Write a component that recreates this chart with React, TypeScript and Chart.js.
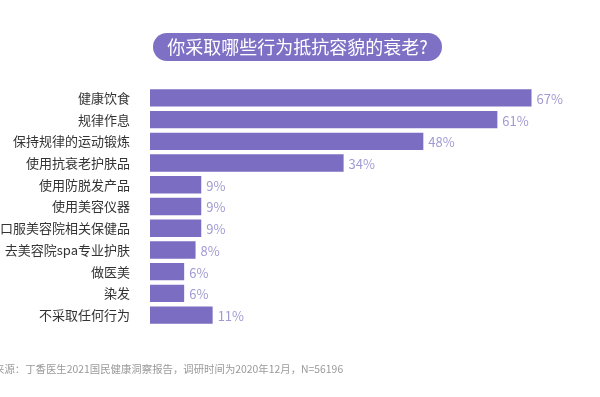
import React, { useEffect, useRef } from "react";
import { Chart, registerables } from "chart.js";

Chart.register(...registerables);

const categories = [
  "健康饮食",
  "规律作息",
  "保持规律的运动锻炼",
  "使用抗衰老护肤品",
  "使用防脱发产品",
  "使用美容仪器",
  "服用口服美容院相关保健品",
  "去美容院spa专业护肤",
  "做医美",
  "染发",
  "不采取任何行为",
];
const values = [67, 61, 48, 34, 9, 9, 9, 8, 6, 6, 11];
const titleText = "你采取哪些行为抵抗容貌的衰老?";
const sourceText = "来源：丁香医生2021国民健康洞察报告，调研时间为2020年12月，N=56196";

const FONT = "'Noto Sans CJK SC', 'Noto Sans', sans-serif";
const BAR = "#7B6EC2";
const LABEL = "#A09AD2";

const decorPlugin = {
  id: "decor",
  afterDraw(chart: any) {
    const ctx = chart.ctx;
    ctx.save();
    // title pill
    const x0 = 153, x1 = 442, y0 = 33, y1 = 61;
    const r = (y1 - y0) / 2;
    ctx.fillStyle = "#7D70C5";
    ctx.beginPath();
    ctx.moveTo(x0 + r, y0);
    ctx.lineTo(x1 - r, y0);
    ctx.arc(x1 - r, y0 + r, r, -Math.PI / 2, Math.PI / 2);
    ctx.lineTo(x0 + r, y1);
    ctx.arc(x0 + r, y0 + r, r, Math.PI / 2, (3 * Math.PI) / 2);
    ctx.closePath();
    ctx.fill();
    ctx.fillStyle = "#ffffff";
    ctx.font = `18px ${FONT}`;
    ctx.textAlign = "center";
    ctx.textBaseline = "middle";
    ctx.fillText(titleText, (x0 + x1) / 2, (y0 + y1) / 2);

    // value labels
    const meta = chart.getDatasetMeta(0);
    ctx.font = `13px ${FONT}`;
    ctx.fillStyle = LABEL;
    ctx.textAlign = "left";
    meta.data.forEach((bar: any, i: number) => {
      ctx.fillText(values[i] + "%", bar.x + 5, bar.y + 1);
    });

    // source
    ctx.font = `10.4px ${FONT}`;
    ctx.fillStyle = "#9a9a9a";
    ctx.textAlign = "left";
    ctx.fillText(sourceText, -6, 369);
    ctx.restore();
  },
};

export default function App() {
  const ref = useRef<HTMLCanvasElement>(null);
  useEffect(() => {
    if (!ref.current) return;
    const chart = new Chart(ref.current, {
      type: "bar",
      data: {
        labels: categories,
        datasets: [
          {
            data: values,
            backgroundColor: BAR,
            barPercentage: 0.8,
            categoryPercentage: 1,
          },
        ],
      },
      options: {
        indexAxis: "y",
        animation: false,
        responsive: false,
        maintainAspectRatio: false,
        layout: { padding: { top: 87, bottom: 71, left: 0, right: 40 } },
        plugins: { legend: { display: false }, tooltip: { enabled: false }, title: { display: false } },
        scales: {
          x: { display: false, min: 0, max: 72 },
          y: {
            grid: { display: false },
            border: { display: false },
            ticks: { color: "#333333", font: { size: 13, family: FONT }, padding: 12 },
            afterFit(scale: any) {
              scale.width = 150;
            },
          },
        },
      },
      plugins: [decorPlugin],
    });
    return () => chart.destroy();
  }, []);
  return (
    <div style={{ position: "fixed", left: 0, top: 0, width: 600, height: 397, background: "#fff" }}>
      <canvas ref={ref} width={600} height={397} style={{ width: 600, height: 397 }} />
    </div>
  );
}
